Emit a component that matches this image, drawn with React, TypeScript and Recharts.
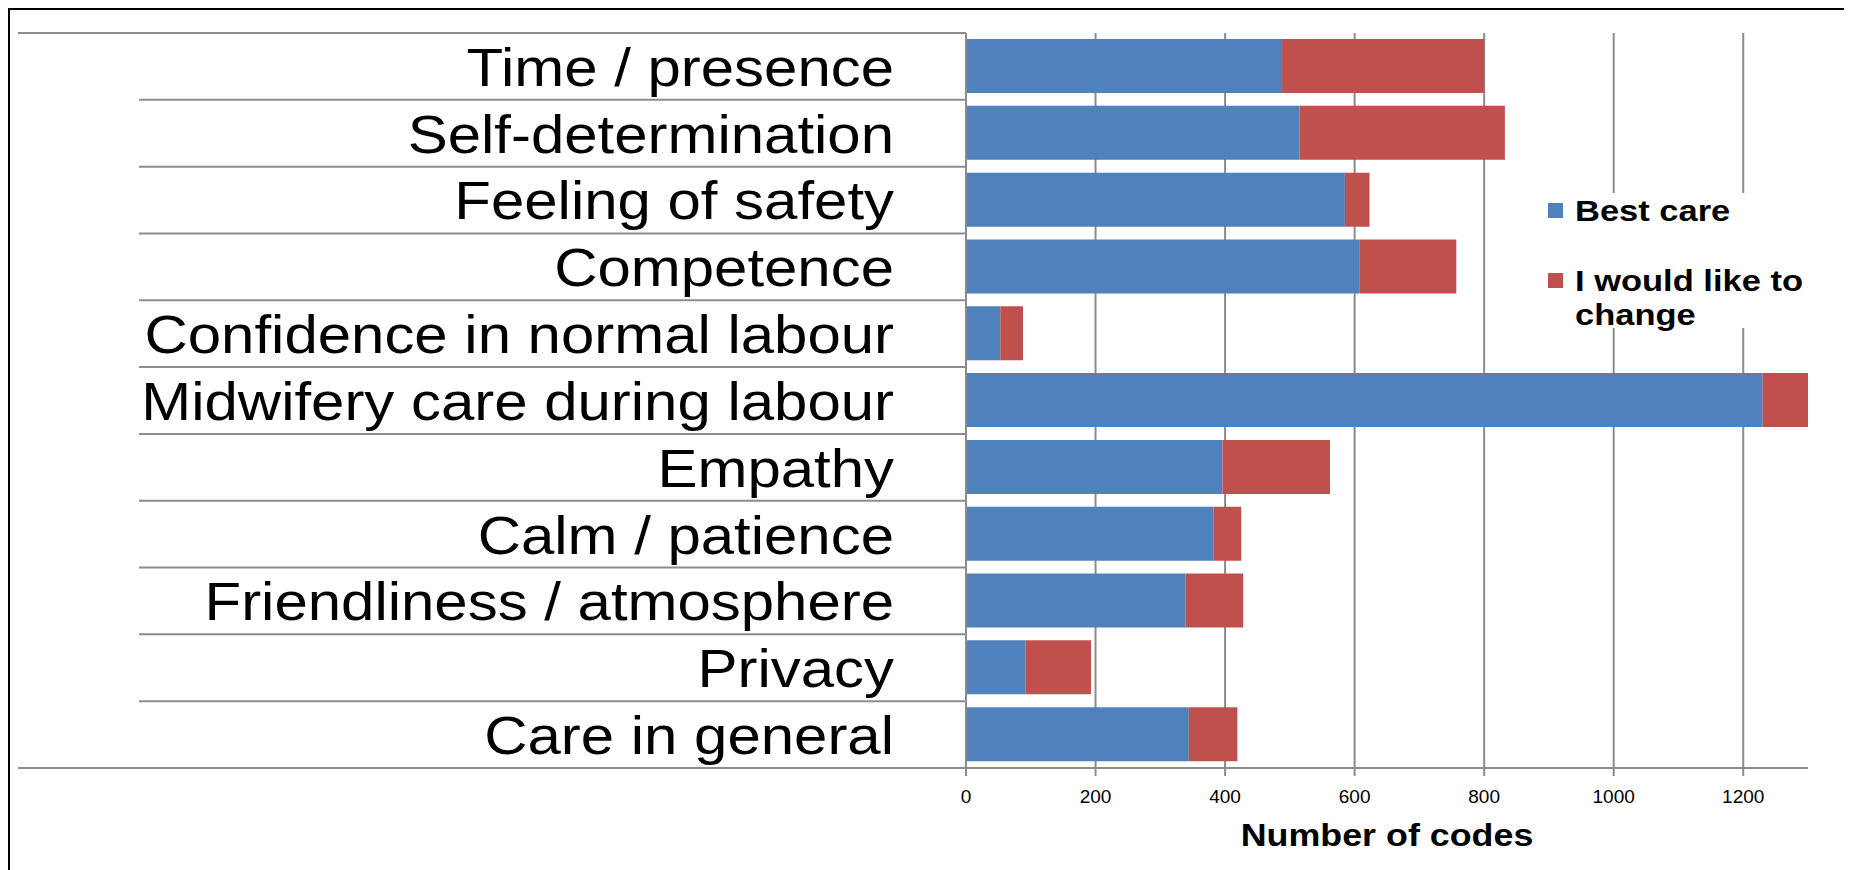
import { Bar, BarChart, CartesianGrid, Customized, XAxis, YAxis } from "recharts";

const categories = [
  "Time / presence",
  "Self-determination",
  "Feeling of safety",
  "Competence",
  "Confidence in normal labour",
  "Midwifery care during labour",
  "Empathy",
  "Calm / patience",
  "Friendliness / atmosphere",
  "Privacy",
  "Care in general",
];
const bestCare = [488, 515, 585, 608, 53, 1230, 396, 382, 339, 92, 344];
const likeToChange = [312, 317, 38, 149, 35, 70, 166, 43, 89, 101, 75];
const xTicks = [0, 200, 400, 600, 800, 1000, 1200];
const seriesNames = ["Best care", "I would like to change"];

const data = categories.map((name, i) => ({ name, best: bestCare[i], change: likeToChange[i] }));

const BLUE = "#4f81bd";
const RED = "#c0504d";
const GRID = "#8c8c8c";
const FONT = "'Liberation Sans', Arial, sans-serif";

const W = 1842;
const H = 860;
const MARGIN = { top: 23, right: 44, bottom: 0, left: 0 };
const Y_WIDTH = 956;
const X_HEIGHT = 102;
const PLOT_H = H - MARGIN.top - X_HEIGHT;
const BAND = PLOT_H / categories.length;

function CategoryTick({ x, y, payload, index }: any) {
  const half = BAND / 2;
  return (
    <g>
      <line x1={index === 0 ? 8 : 129} x2={Y_WIDTH} y1={y - half} y2={y - half} stroke={GRID} strokeWidth={2} />
      {index === categories.length - 1 && (
        <line x1={8} x2={Y_WIDTH} y1={y + half} y2={y + half} stroke={GRID} strokeWidth={2} />
      )}
      <g transform={`translate(${x},${y}) scale(1.11,1)`}>
        <text textAnchor="end" dy="0.36em" fontSize={54} fill="#000" fontFamily={FONT}>
          {payload.value}
        </text>
      </g>
    </g>
  );
}

function ValueTick({ x, y, payload }: any) {
  return (
    <text x={x} y={y} dy={27} textAnchor="middle" fontSize={19} fill="#000" fontFamily={FONT}>
      {payload.value}
    </text>
  );
}

function AxisTitle({ viewBox }: any) {
  const cx = viewBox.x + viewBox.width / 2;
  return (
    <g transform={`translate(${cx},${viewBox.y + 78}) scale(1.12,1)`}>
      <text textAnchor="middle" fontSize={32} fontWeight="bold" fill="#000" fontFamily={FONT}>
        Number of codes
      </text>
    </g>
  );
}

// legend drawn inside the svg so its white box hides the gridlines behind it
function LegendBox() {
  const entries = [
    { color: BLUE, lines: [seriesNames[0]], y: 193 },
    { color: RED, lines: ["I would like to", "change"], y: 263 },
  ];
  return (
    <g>
      <rect x={1490} y={183} width={300} height={135} fill="#fff" />
      {entries.map((e) => (
        <g key={e.color}>
          <rect x={1538} y={e.y} width={15} height={15} fill={e.color} />
          {e.lines.map((l, i) => (
            <g key={l} transform={`translate(1565,${e.y + 18 + i * 34}) scale(1.15,1)`}>
              <text fontSize={30} fontWeight="bold" fill="#000" fontFamily={FONT}>
                {l}
              </text>
            </g>
          ))}
        </g>
      ))}
    </g>
  );
}

export default function App() {
  return (
    <>
      <style>{"body{overflow:hidden}"}</style>
      <div style={{ borderLeft: "2px solid #000", borderTop: "2px solid #000", width: W, height: H, background: "#fff" }}>
        <BarChart width={W} height={H} data={data} layout="vertical" margin={MARGIN} barSize={54}>
          <CartesianGrid horizontal={false} verticalValues={xTicks} stroke={GRID} strokeWidth={2} />
          <XAxis
            type="number"
            domain={[0, 1300]}
            ticks={xTicks}
            allowDataOverflow
            height={X_HEIGHT}
            stroke={GRID}
            strokeWidth={2}
            tickSize={8}
            tickMargin={0}
            tick={<ValueTick />}
            label={<AxisTitle />}
          />
          <YAxis
            type="category"
            dataKey="name"
            width={Y_WIDTH}
            stroke={GRID}
            strokeWidth={2}
            tickLine={false}
            tickSize={0}
            tickMargin={72}
            interval={0}
            tick={<CategoryTick />}
          />
          <Bar dataKey="best" name={seriesNames[0]} stackId="a" fill={BLUE} isAnimationActive={false} />
          <Bar dataKey="change" name={seriesNames[1]} stackId="a" fill={RED} isAnimationActive={false} />
          <Customized component={LegendBox} />
        </BarChart>
      </div>
    </>
  );
}
